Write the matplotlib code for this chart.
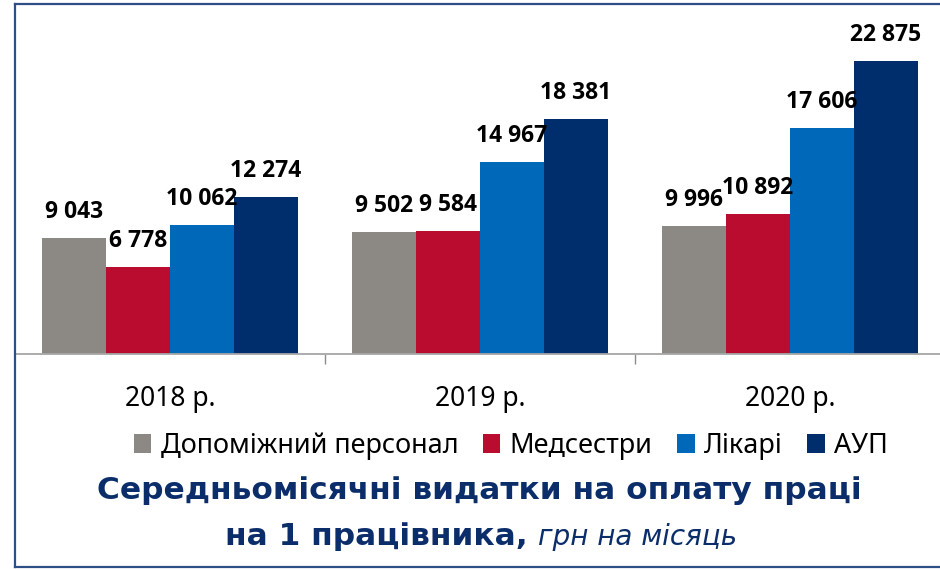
import matplotlib
matplotlib.use('Agg')
import matplotlib.pyplot as plt
import numpy as np
from matplotlib.patches import Patch
from matplotlib.lines import Line2D

# дані
years = ['2018 р.', '2019 р.', '2020 р.']
series = ['Допоміжний персонал', 'Медсестри', 'Лікарі', 'АУП']
support = [9043, 9502, 9996]
nurses = [6778, 9584, 10892]
doctors = [10062, 14967, 17606]
admin = [12274, 18381, 22875]
colors = ['#8C8984', '#BA0C2F', '#0068B9', '#002D6B']

values = [support, nurses, doctors, admin]

W, H = 940, 570
fig = plt.figure(figsize=(W / 100, H / 100), dpi=100)
ax = fig.add_axes([15 / W, (H - 354) / H, 930 / W, 350 / H])

x = np.arange(len(years))
bw = 0.206
for i, (vals, c) in enumerate(zip(values, colors)):
    pos = x + (i - 1.5) * bw
    ax.bar(pos, vals, width=bw, color=c, edgecolor='none', label=series[i])
    for p, v in zip(pos, vals):
        lbl = f'{v:,}'.replace(',', ' ')
        ax.annotate(lbl, (p, v), xytext=(0, 14.4), textcoords='offset points',
                    ha='center', va='baseline', fontsize=16.5, fontweight='bold',
                    family='Open Sans', color='black')

ax.set_xlim(-0.5, 2.5)
ax.set_ylim(0, 350 / 0.012809)
for s in ['top', 'right', 'left']:
    ax.spines[s].set_visible(False)
ax.spines['bottom'].set_color('#A6A6A6')
ax.spines['bottom'].set_linewidth(1.3)
ax.set_yticks([])
ax.set_xticks(x)
ax.set_xticklabels(years, fontsize=19, family='Noto Sans')
ax.tick_params(axis='x', which='major', length=0, pad=22)
ax.set_xticks([0.5, 1.5], minor=True)
ax.tick_params(axis='x', which='minor', length=7, width=1, color='#8C8C8C', direction='out')

# легенда
handles = [Patch(facecolor=c, edgecolor='none') for c in colors]
fig.legend(handles, series, loc='center', bbox_to_anchor=(511 / W, 1 - 446 / H),
           ncol=4, frameon=False, prop={'family': 'Noto Sans', 'size': 19.5},
           handlelength=0.65, handleheight=0.65, handletextpad=0.35, columnspacing=0.9)

# заголовок
navy = '#0B2E6B'
fig.text(479 / W, 1 - 499 / H, 'Середньомісячні видатки на оплату праці',
         ha='center', va='baseline', fontsize=22.5, fontweight='bold',
         family='DejaVu Sans', color=navy)
t1 = fig.text(0, 1 - 545 / H, 'на 1 працівника, ', ha='left', va='baseline',
              fontsize=22.5, fontweight='bold', family='DejaVu Sans', color=navy)
t2 = fig.text(0, 1 - 545 / H, 'грн на місяць', ha='left', va='baseline',
              fontsize=20, style='italic', family='DejaVu Sans', color=navy)
fig.canvas.draw()
r = fig.canvas.get_renderer()
w1 = t1.get_window_extent(r).width
w2 = t2.get_window_extent(r).width
start = 481 - (w1 + w2) / 2
t1.set_x(start / W)
t2.set_x((start + w1) / W)

# рамка
fc = '#2E4F85'
for xs, ys in [([15, 15], [4, 567]), ([15, 945], [4, 4]), ([15, 945], [567, 567])]:
    fig.add_artist(Line2D([v / W for v in xs], [1 - v / H for v in ys],
                          color=fc, linewidth=1.6, transform=fig.transFigure))

plt.savefig('out.png', dpi=100)
